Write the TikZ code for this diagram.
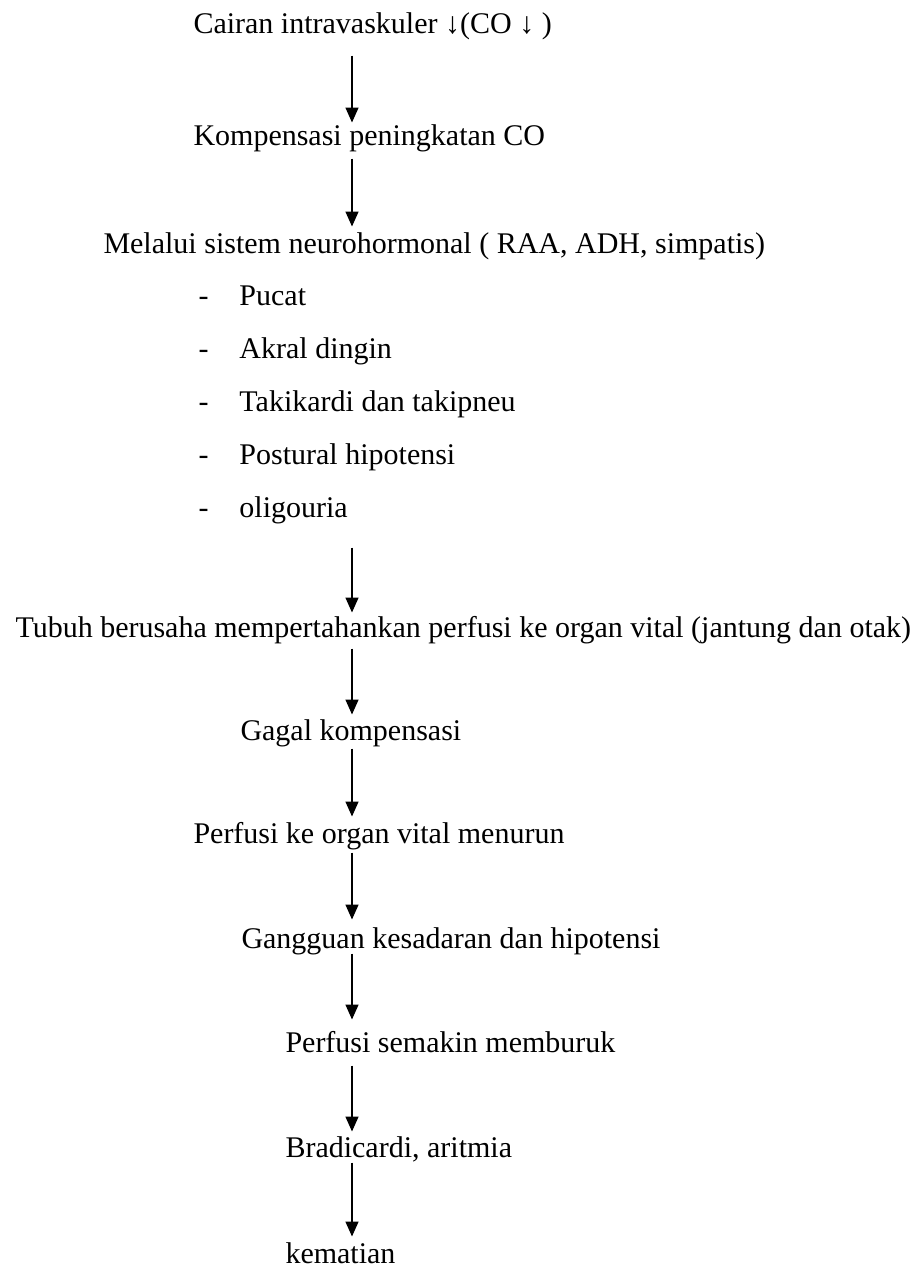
\documentclass[tikz,border=0pt]{standalone}
\usepackage{fontspec}
\setmainfont{Liberation Serif}
\usetikzlibrary{arrows.meta}

\begin{document}
\begin{tikzpicture}[x=0.4pt,y=-0.4pt,
        txt/.style={anchor=base west,inner sep=0pt,text height=8.8pt,text depth=2.8pt,
            font=\fontsize{12pt}{14pt}\selectfont},
        flow/.style={-{Triangle[width=5.2pt,length=6pt]},line width=0.6pt}]

        \useasboundingbox (0,0) rectangle (918,1268);
        \coordinate (ax) at (352,0);

        \node[txt] (cairan) at (193,33) {Cairan intravaskuler ↓(CO ↓ )};
        \node[txt] (komp) at (193,145) {Kompensasi peningkatan CO};
        \node[txt] (neuro) at (103,253) {Melalui sistem neurohormonal ( RAA, ADH, simpatis)};

        \node[txt] (g_1) at (198,305) {\makebox[16.4pt][l]{-}Pucat};
        \node[txt] (g_2) at (198,358) {\makebox[16.4pt][l]{-}Akral dingin};
        \node[txt] (g_3) at (198,411) {\makebox[16.4pt][l]{-}Takikardi dan takipneu};
        \node[txt] (g_4) at (198,464) {\makebox[16.4pt][l]{-}Postural hipotensi};
        \node[txt] (g_5) at (198,517) {\makebox[16.4pt][l]{-}oligouria};

        \node[txt] (tubuh) at (15,637) {Tubuh berusaha mempertahankan perfusi ke organ vital (jantung dan otak)};
        \node[txt] (gagal) at (240,740) {Gagal kompensasi};
        \node[txt] (perf) at (193,843) {Perfusi ke organ vital menurun};
        \node[txt] (gang) at (241,948) {Gangguan kesadaran dan hipotensi};
        \node[txt] (buruk) at (285,1052) {Perfusi semakin memburuk};
        \node[txt] (brad) at (285,1157) {Bradicardi, aritmia};
        \node[txt] (mati) at (285,1263) {kematian};

        \path[flow]
        (cairan.south -| ax) edge[shorten <=6pt] (komp.north -| ax)
        (komp.south -| ax) edge[shorten <=2.4pt, shorten >=1.6pt] (neuro.north -| ax)
        (g_5.south -| ax) edge[shorten <=9.2pt, shorten >=0.8pt] (tubuh.north -| ax)
        (tubuh.south -| ax) edge[shorten <=1.6pt, shorten >=1.2pt] (gagal.north -| ax)
        (gagal.south -| ax) edge[shorten <=0.4pt, shorten >=1.6pt] (perf.north -| ax)
        (perf.south -| ax) edge[shorten <=0.8pt, shorten >=2.4pt] (gang.north -| ax)
        (gang.south -| ax) edge[shorten <=-0.8pt, shorten >=4pt] (buruk.north -| ax)
        (buruk.south -| ax) edge[shorten <=2.4pt, shorten >=1.2pt] (brad.north -| ax)
        (brad.south -| ax) edge[shorten <=-0.8pt, shorten >=1.6pt] (mati.north -| ax)
        ;
\end{tikzpicture}
\end{document}
